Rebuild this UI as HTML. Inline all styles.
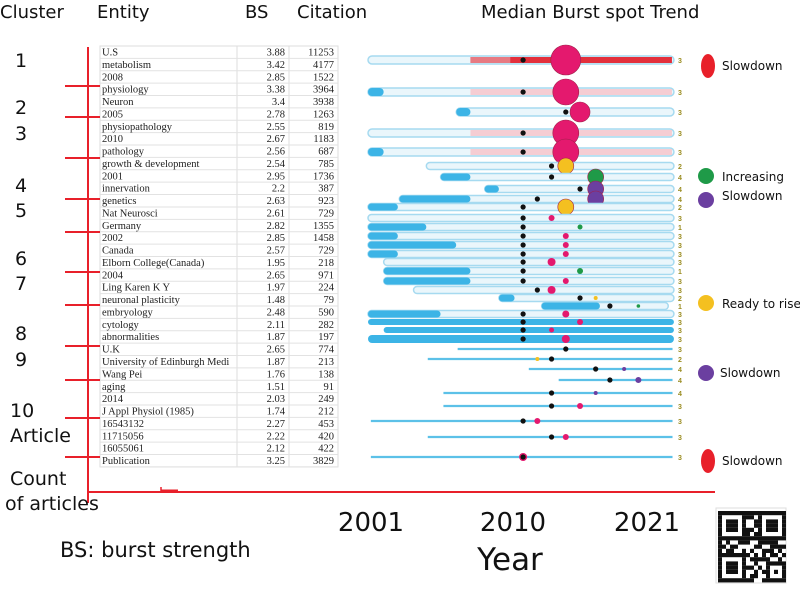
<!DOCTYPE html>
<html><head><meta charset="utf-8"><style>
html,body{margin:0;padding:0;background:#fff;}
svg{display:block;}
.hd{font-family:"DejaVu Sans","Liberation Sans",sans-serif;font-size:18px;fill:#111;}
.cl{font-family:"DejaVu Sans","Liberation Sans",sans-serif;font-size:19px;fill:#111;}
.tb{font-family:"Liberation Serif",serif;font-size:10.5px;fill:#222;}
.lg{font-family:"DejaVu Sans","Liberation Sans",sans-serif;font-size:12px;fill:#111;}
</style></head><body>
<svg id="chart" width="800" height="589" viewBox="0 0 800 589" xmlns="http://www.w3.org/2000/svg">
  <text class="hd" x="0" y="18">Cluster</text>
  <text class="hd" x="97" y="18">Entity</text>
  <text class="hd" x="245" y="18">BS</text>
  <text class="hd" x="297" y="18">Citation</text>
  <text class="hd" x="481" y="18">Median Burst spot  Trend</text>

  <g id="table"></g>
  <g id="axes"></g>
  <g id="bars"></g>
  <g id="legend"></g>

  <text class="cl" x="10" y="485">Count</text>
  <text class="cl" x="5" y="510">of articles</text>
  <text x="60" y="557" style="font-family:'DejaVu Sans',sans-serif;font-size:21px;fill:#111">BS: burst strength</text>
  <text x="371" y="531" text-anchor="middle" style="font-family:'DejaVu Sans',sans-serif;font-size:26px;fill:#111">2001</text>
  <text x="513" y="531" text-anchor="middle" style="font-family:'DejaVu Sans',sans-serif;font-size:26px;fill:#111">2010</text>
  <text x="647" y="531" text-anchor="middle" style="font-family:'DejaVu Sans',sans-serif;font-size:26px;fill:#111">2021</text>
  <text x="510" y="570" text-anchor="middle" style="font-family:'DejaVu Sans',sans-serif;font-size:31px;fill:#111">Year</text>
  <g id="qr"></g>
</svg>
<script>
const NS="http://www.w3.org/2000/svg";
function mk(tag,attrs,parent,text){const e=document.createElementNS(NS,tag);for(const k in attrs)e.setAttribute(k,attrs[k]);if(text!==undefined)e.textContent=text;parent.appendChild(e);return e;}

// ---- table data ----
const entities=["U.S","metabolism","2008","physiology","Neuron","2005","physiopathology","2010","pathology","growth & development","2001","innervation","genetics","Nat Neurosci","Germany","2002","Canada","Elborn College(Canada)","2004","Ling Karen K Y","neuronal plasticity","embryology","cytology","abnormalities","U.K","University of Edinburgh Medi","Wang Pei","aging","2014","J Appl Physiol (1985)","16543132","11715056","16055061","Publication"];
const bsValues=["3.88","3.42","2.85","3.38","3.4","2.78","2.55","2.67","2.56","2.54","2.95","2.2","2.63","2.61","2.82","2.85","2.57","1.95","2.65","1.97","1.48","2.48","2.11","1.87","2.65","1.87","1.76","1.51","2.03","1.74","2.27","2.22","2.12","3.25"];
const citations=["11253","4177","1522","3964","3938","1263","819","1183","687","785","1736","387","923","729","1355","1458","729","218","971","224","79","590","282","197","774","213","138","91","249","212","453","420","422","3829"];

// ---- cluster data ----
const clusterLabels=["1","2","3","4","5","6","7","8","9","10","Article"];
const clusterBoundaryRows=[3,5,8,12,14,17,20,24,27,30,33];

// ---- timeline data (years) ----
const startYear=[1999,1999,2005.2,1999,1999,2003.1,2004.1,2007.2,2001.2,1999,1999,1999,1999,1999,1999,2000.1,2000.1,2000.1,2002.2,2008.2,2011.2,1999,1999,2000.1,1999,2005.3,2003.2,2010.3,2012.4,2004.3,2004.3,1999.2,2003.2,1999.2];
const endYear=[2020.5,2020.5,2020.5,2020.5,2020.5,2020.5,2020.5,2020.5,2020.5,2020.5,2020.5,2020.5,2020.5,2020.5,2020.5,2020.5,2020.5,2020.5,2020.5,2020.5,2020.1,2020.5,2020.5,2020.5,2020.5,2020.4,2020.4,2020.4,2020.4,2020.4,2020.4,2020.4,2020.4,2020.4];
const burstEndYear=[null,2000.1,2006.2,null,2000.1,null,2006.2,2008.2,2006.2,2001.1,null,2003.1,2001.1,2005.2,2001.1,null,2006.2,2006.2,null,2009.3,2015.3,2004.1,2020.5,2020.5,2020.5,null,null,null,null,null,null,null,null,null];
const medianYear=[2009.9,2009.9,2012.9,2009.9,2009.9,2011.9,2011.9,2013.9,2010.9,2009.9,2009.9,2009.9,2009.9,2009.9,2009.9,2009.9,2009.9,2009.9,2010.9,2013.9,2016,2009.9,2009.9,2009.9,2009.9,2012.9,2011.9,2015,2016,2011.9,2011.9,2009.9,2011.9,2009.9];
const spotYear=[2012.9,2012.9,2013.9,2012.9,2012.9,2012.9,2015,2015,2015,2012.9,2011.9,2013.9,2012.9,2012.9,2012.9,2011.9,2013.9,2012.9,2011.9,2015,2018,2012.9,2013.9,2011.9,2012.9,2012.9,2010.9,2017,2018,2015,2013.9,2010.9,2012.9,2009.9];
const spotSize=[15,13,10,13,13,8,8,8,8,8,3,2.5,3,3,3,4,3,3,4,2,1.8,3.5,3,2.5,4,0,2,2,3,2,3,3,3,4];
const spotTrend=["slow","slow","slow","slow","slow","rise","inc","slow2","slow2","rise","slow","inc","slow","slow","slow","slow","inc","slow","slow","rise","inc","slow","slow","slow","slow","none","rise","slow2","slow2","slow2","slow","slow","slow","slow"];
const trendCode=["3","3","3","3","3","2","4","4","4","2","3","1","3","3","3","3","1","3","3","2","1","3","3","3","3","3","2","4","4","4","3","3","3","3"];
const barKind=["red","pink","plain","pink","pink","plain","plain","plain","plain","plain","plain","plain","plain","plain","plain","plain","plain","plain","plain","plain","plain","plain","solid","solid","solid","thin","thin","thin","thin","thin","thin","thin","thin","thin"];

// layout (not data)
const rowY=[60,92,112,133,152,166,177,189,199,207,218,227,236,245,254,262,271,281,290,298,306,314,322,330,339,349,359,369,380,393,406,421,437,457];
const colors={slow:"#e4196e",rise:"#f4c020",inc:"#1f9a48",slow2:"#6b3fa0",none:"#111"};
const X0=368, PX=14.23;
function xs(yr){return X0+(yr-1999)*PX;}

// ---- table ----
const tb=document.getElementById('table');
const tTop=46,rh=12.38;
mk('rect',{x:100,y:tTop,width:238,height:rh*entities.length,fill:'#fff',stroke:'#ddd','stroke-width':1},tb);
for(const xv of [237,289]){mk('line',{x1:xv,y1:tTop,x2:xv,y2:tTop+rh*entities.length,stroke:'#ddd'},tb);}
entities.forEach((n,i)=>{
  const y=tTop+i*rh;
  mk('line',{x1:100,y1:y+rh,x2:338,y2:y+rh,stroke:'#e2e2e2'},tb);
  const t1=mk('text',{class:'tb',x:102,y:y+9.5},tb,n);
  
  
  const t2=mk('text',{class:'tb',x:285,y:y+9.5,'text-anchor':'end'},tb,bsValues[i]);
  
  
  const t3=mk('text',{class:'tb',x:334,y:y+9.5,'text-anchor':'end'},tb,citations[i]);
  
  
});

// ---- axes ----
const ax=document.getElementById('axes');
mk('line',{x1:88,y1:47,x2:88,y2:503,stroke:'#e8202a','stroke-width':2},ax);
const xa=mk('line',{x1:88,y1:492,x2:715,y2:492,stroke:'#e8202a','stroke-width':2},ax);


mk('path',{d:'M161 487 V492',stroke:'#e8202a','stroke-width':1.5,fill:'none'},ax);
mk('rect',{x:161,y:489.5,width:17,height:3.5,fill:'#e8202a'},ax);
const tickYs=[86,117,158,199,232,272,305,346,380,418,457];
clusterBoundaryRows.forEach((r,i)=>{
  const y=tickYs[i];
  const t=mk('line',{x1:65,y1:y,x2:100,y2:y,stroke:'#e8202a','stroke-width':2},ax);
  
  
});
const labY=[67,114,140,192,217,265,290,340,366,417,442];
const labX=[15,15,15,15,15,15,15,15,15,10,10];
clusterLabels.forEach((c,i)=>{
  const t=mk('text',{class:'cl',x:labX[i],y:labY[i]},ax,c);
  
  
});

// ---- bars ----
const bg=document.getElementById('bars');
startYear.forEach((s,i)=>{
  const y=rowY[i], k=barKind[i];
  const x1=xs(s), x2=xs(endYear[i]);
  const g=mk('g',{},bg);
  
  
  if(k==='thin'){
    mk('line',{x1:x1,y1:y,x2:x2,y2:y,stroke:'#5cc1e8','stroke-width':2.2},g);
  } else {
    const h=(i<5)?8:(k==='solid'?(i===24?8:6):7);
    if(k==='solid'){
      mk('rect',{x:x1,y:y-h/2,width:x2-x1,height:h,rx:h/2,fill:'#3cb4e6'},g);
    } else {
      mk('rect',{x:x1,y:y-h/2,width:x2-x1,height:h,rx:h/2,fill:'#eaf6fb',stroke:'#a6daf0','stroke-width':1.5},g);
      if(k==='pink'||k==='red'){
        mk('rect',{x:xs(2006.2),y:y-h/2+1,width:x2-xs(2006.2)-2,height:h-2,fill:k==='red'?'#e3303c':'#f5cdd3'},g);
        if(k==='red') mk('rect',{x:xs(2006.2),y:y-h/2+1,width:xs(2009)-xs(2006.2),height:h-2,fill:'#e77a82'},g);
      }
      const be=burstEndYear[i];
      if(be!==null){
        mk('rect',{x:x1,y:y-h/2,width:xs(be)-x1,height:h,rx:h/2,fill:'#3cb4e6'},g);
      }
    }
  }
  const md=mk('circle',{cx:xs(medianYear[i]),cy:y,r:2.6,fill:'#111'},g);
  
  
  if(spotSize[i]>0){
    const sp=mk('circle',{cx:xs(spotYear[i]),cy:y,r:spotSize[i],fill:colors[spotTrend[i]],stroke:spotSize[i]>5?'#a0204a':'none','stroke-width':0.6},g);
    
    
  }
  if(i===33) mk('circle',{cx:xs(medianYear[i]),cy:y,r:2.6,fill:'#111'},g);
  const tl=mk('text',{x:678,y:y+3,style:'font-family:Liberation Sans,sans-serif;font-size:7px;font-weight:bold;fill:#9a8c20'},g,trendCode[i]);
  
  
});

// ---- legend ----
const lg=document.getElementById('legend');
const legItems=[["ellipse",708,66,"#e8202a","Slowdown",722,70],["circle",706,176,"#1f9a48","Increasing",722,181],["circle",706,200,"#6b3fa0","Slowdown",722,200],["circle",706,303,"#f4c020","Ready to rise",722,308],["circle",706,373,"#6b3fa0","Slowdown",720,377],["ellipse",708,461,"#e8202a","Slowdown",722,465]];
legItems.forEach(it=>{
  const g=mk('g',{},lg);
  
  
  if(it[0]==='ellipse') mk('ellipse',{cx:it[1],cy:it[2],rx:7,ry:12,fill:it[3]},g);
  else mk('circle',{cx:it[1],cy:it[2],r:8,fill:it[3]},g);
  mk('text',{class:'lg',x:it[5],y:it[6]},g,it[4]);
});

// ---- qr ----
const qr=document.getElementById('qr');
mk('rect',{x:716,y:508,width:70,height:75,fill:'#fff',stroke:'#ddd'},qr);
const pat=[0x1f7a3,0x1158d,0x15e35,0x11a6b,0x1f5b1,0x0a6cf,0x1b392,0x07ce5,0x1e61b,0x0b94d,0x16ac7,0x09f31,0x1f25a,0x115c6,0x15a7d,0x11363,0x1f9b5];
for(let r=0;r<17;r++)for(let c=0;c<17;c++){
  let on=(pat[r]>>c)&1;
  const inF=(rr,cc)=>rr<7&&cc<7;
  if(inF(r,c)||inF(r,16-c)||inF(16-r,c)){const rr=r<7?r:16-r, cc=c<7?c:16-c;on=(rr===0||rr===6||cc===0||cc===6||(rr>=2&&rr<=4&&cc>=2&&cc<=4))?1:0;}
  if(on) mk('rect',{x:718+c*4,y:511+r*4.2,width:4,height:4.2,fill:'#111'},qr);
}
</script>
</body></html>
